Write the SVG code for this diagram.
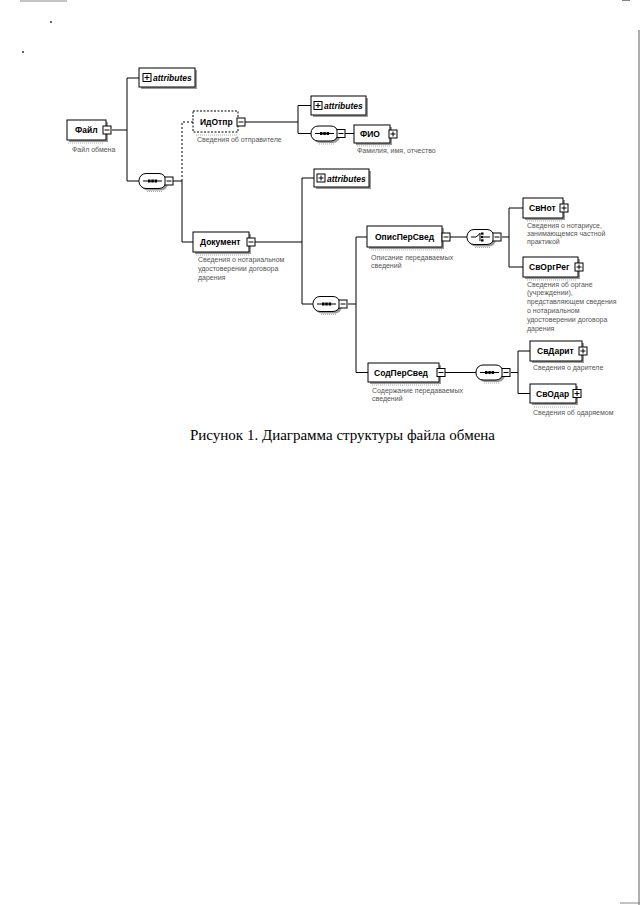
<svg xmlns="http://www.w3.org/2000/svg" xmlns:xlink="http://www.w3.org/1999/xlink" width="640" height="905" viewBox="0 0 640 905">
<style>
.bg{fill:#fff}
.box{fill:#fff;stroke:#000;stroke-width:1}
.dbox{fill:#fff;stroke:#000;stroke-width:1;stroke-dasharray:2,1.5}
.sh{fill:#9a9a9a}
.ln{stroke:#000;stroke-width:1;fill:none}
.dl{stroke:#000;stroke-width:1;fill:none;stroke-dasharray:2,2}
.ns{stroke:#aaa;stroke-width:1;fill:none;stroke-dasharray:1,1}
.name{font-family:"Liberation Sans",Arial,sans-serif;font-weight:bold;font-size:8.5px;fill:#000}
.attr{font-family:"Liberation Sans",Arial,sans-serif;font-weight:bold;font-style:italic;font-size:8.5px;fill:#000}
.desc{font-family:"Liberation Sans",Arial,sans-serif;font-size:7px;fill:#555}
.cap{font-family:"Liberation Serif","Times New Roman",serif;font-size:15px;fill:#000}
.art{stroke:#888;stroke-width:1;fill:none}
</style>
<defs>
<g id="btnMinus"><rect x="0" y="0" width="8" height="8" class="box"/><line x1="1.5" y1="4" x2="6.5" y2="4" class="ln"/></g>
<g id="btnPlus"><rect x="0" y="0" width="8" height="8" class="box"/><line x1="1.5" y1="4" x2="6.5" y2="4" class="ln"/><line x1="4" y1="1.5" x2="4" y2="6.5" class="ln"/></g>
<g id="seq">
<rect x="2" y="2" width="27" height="15" rx="7" class="sh"/>
<rect x="0" y="0" width="27" height="15" rx="7" class="box"/>
<line x1="4" y1="7.5" x2="23" y2="7.5" class="ln"/>
<rect x="9" y="6" width="2.5" height="3" fill="#000"/><rect x="12.3" y="6" width="2.5" height="3" fill="#000"/><rect x="15.6" y="6" width="2.5" height="3" fill="#000"/>
<use xlink:href="#btnMinus" x="26" y="3.5"/>
<line x1="8" y1="18" x2="24" y2="18" class="ns"/>
</g>
<g id="choice">
<rect x="2" y="2" width="27" height="15" rx="7" class="sh"/>
<rect x="0" y="0" width="27" height="15" rx="7" class="box"/>
<polyline points="4,7.5 9,7.5 13,4" class="ln"/>
<rect x="14" y="3" width="2.5" height="2.2" fill="#000"/><rect x="14" y="6.4" width="2.5" height="2.2" fill="#000"/><rect x="14" y="9.8" width="2.5" height="2.2" fill="#000"/>
<polyline points="13,3.5 13,11.5" class="ln"/>
<line x1="17" y1="7.5" x2="23" y2="7.5" class="ln"/>
<use xlink:href="#btnMinus" x="26" y="3.5"/>
<line x1="8" y1="18" x2="24" y2="18" class="ns"/>
</g>
</defs>
<rect x="0" y="0" width="640" height="905" class="bg"/>
<g id="artifacts">
<line x1="20" y1="1" x2="67" y2="1" class="art"/>
<line x1="622" y1="0.5" x2="630" y2="0.5" class="art"/>
<rect x="50" y="21" width="2" height="2" fill="#666"/>
<rect x="22" y="51" width="2" height="2" fill="#666"/>
<line x1="639" y1="30" x2="639" y2="905" stroke="#777" stroke-width="1.2"/>
<line x1="620" y1="903" x2="640" y2="903" class="art"/>
</g>
<g id="connectors">
<polyline points="112,130 127,130" class="ln"/>
<polyline points="139,78 127,78 127,181 139,181" class="ln"/>
<line x1="173" y1="181" x2="182" y2="181" class="ln"/>
<polyline points="193,122 182,122 182,181" class="dl"/>
<polyline points="182,181 182,242 193,242" class="ln"/>
<line x1="245" y1="122" x2="298" y2="122" class="ln"/>
<polyline points="311,105.5 298,105.5 298,133.5 311,133.5" class="ln"/>
<line x1="345" y1="133.5" x2="354" y2="133.5" class="ln"/>
<line x1="255" y1="242" x2="302" y2="242" class="ln"/>
<polyline points="314,178 302,178 302,304 313,304" class="ln"/>
<line x1="348" y1="304" x2="356" y2="304" class="ln"/>
<polyline points="367,237 356,237 356,372.5 368,372.5" class="ln"/>
<line x1="450" y1="237" x2="467" y2="237" class="ln"/>
<line x1="502" y1="237" x2="509" y2="237" class="ln"/>
<polyline points="523,208 509,208 509,267 523,267" class="ln"/>
<line x1="445" y1="372.5" x2="476" y2="372.5" class="ln"/>
<line x1="511" y1="372.5" x2="518" y2="372.5" class="ln"/>
<polyline points="530,351 518,351 518,393.5 530,393.5" class="ln"/>
</g>
<g id="node-fajl">
<rect x="69" y="122" width="39" height="20" class="sh"/>
<rect x="67" y="120" width="39" height="20" class="box"/>
<text x="75" y="133" class="name">Файл</text>
<use xlink:href="#btnMinus" x="103" y="126"/>
<line x1="68" y1="143" x2="104" y2="143" class="ns"/>
<text x="72" y="152" class="desc">Файл обмена</text>
</g>
<g id="attr-fajl">
<rect x="141" y="70" width="56" height="19" class="sh"/>
<rect x="139" y="68" width="56" height="19" class="box"/>
<use xlink:href="#btnPlus" x="143" y="73.5"/>
<text x="153" y="81" class="attr">attributes</text>
</g>
<g id="seq-fajl"><use xlink:href="#seq" x="139" y="173.5"/></g>
<g id="node-idotpr">
<rect x="193" y="111" width="45" height="21" class="dbox"/>
<text x="200" y="125" class="name">ИдОтпр</text>
<use xlink:href="#btnMinus" x="237" y="118"/>
<line x1="196" y1="135" x2="238" y2="135" class="ns"/>
<text x="197" y="142" class="desc">Сведения об отправителе</text>
</g>
<g id="attr-idotpr">
<rect x="313" y="98" width="55" height="19" class="sh"/>
<rect x="311" y="96" width="55" height="19" class="box"/>
<use xlink:href="#btnPlus" x="314" y="101.5"/>
<text x="324" y="109" class="attr">attributes</text>
</g>
<g id="seq-idotpr"><use xlink:href="#seq" x="311" y="126"/></g>
<g id="node-fio">
<rect x="356" y="127" width="36" height="18" class="sh"/>
<rect x="354" y="125" width="36" height="18" class="box"/>
<text x="360" y="137" class="name">ФИО</text>
<use xlink:href="#btnPlus" x="389" y="130"/>
<line x1="357" y1="146" x2="390" y2="146" class="ns"/>
<text x="357" y="153" class="desc">Фамилия, имя, отчество</text>
</g>
<g id="node-dokument">
<rect x="195" y="234" width="56" height="20" class="sh"/>
<rect x="193" y="232" width="56" height="20" class="box"/>
<text x="200" y="245" class="name">Документ</text>
<use xlink:href="#btnMinus" x="247" y="238"/>
<line x1="196" y1="255" x2="249" y2="255" class="ns"/>
<text x="198" y="262" class="desc">Сведения о нотариальном</text>
<text x="198" y="271" class="desc">удостоверении договора</text>
<text x="198" y="280" class="desc">дарения</text>
</g>
<g id="attr-dokument">
<rect x="316" y="171" width="55" height="18" class="sh"/>
<rect x="314" y="169" width="55" height="18" class="box"/>
<use xlink:href="#btnPlus" x="317" y="174"/>
<text x="327" y="181.5" class="attr">attributes</text>
</g>
<g id="seq-dokument"><use xlink:href="#seq" x="313" y="296.5"/></g>
<g id="node-opispersved">
<rect x="369" y="228" width="75" height="21" class="sh"/>
<rect x="367" y="226" width="75" height="21" class="box"/>
<text x="375" y="240" class="name">ОписПерСвед</text>
<use xlink:href="#btnMinus" x="442" y="233"/>
<line x1="371" y1="250" x2="443" y2="250" class="ns"/>
<text x="371" y="260" class="desc">Описание передаваемых</text>
<text x="371" y="268" class="desc">сведений</text>
</g>
<g id="choice-opispersved"><use xlink:href="#choice" x="467" y="229.5"/></g>
<g id="node-svnot">
<rect x="525" y="200" width="40" height="20" class="sh"/>
<rect x="523" y="198" width="40" height="20" class="box"/>
<text x="529" y="211" class="name">СвНот</text>
<use xlink:href="#btnPlus" x="560" y="204"/>
<line x1="527" y1="221" x2="562" y2="221" class="ns"/>
<text x="527" y="228" class="desc">Сведения о нотариусе,</text>
<text x="527" y="236" class="desc">занимающемся частной</text>
<text x="527" y="244" class="desc">практикой</text>
</g>
<g id="node-svorgreg">
<rect x="525" y="259" width="55" height="20" class="sh"/>
<rect x="523" y="257" width="55" height="20" class="box"/>
<text x="529" y="270" class="name">СвОргРег</text>
<use xlink:href="#btnPlus" x="575" y="263"/>
<line x1="527" y1="280" x2="576" y2="280" class="ns"/>
<text x="527" y="287" class="desc">Сведения об органе</text>
<text x="527" y="295" class="desc">(учреждении),</text>
<text x="527" y="304" class="desc">представляющем сведения</text>
<text x="527" y="313" class="desc">о нотариальном</text>
<text x="527" y="322" class="desc">удостоверении договора</text>
<text x="527" y="331" class="desc">дарения</text>
</g>
<g id="node-sodpersved">
<rect x="370" y="365" width="71" height="19" class="sh"/>
<rect x="368" y="363" width="71" height="19" class="box"/>
<text x="374" y="376" class="name">СодПерСвед</text>
<use xlink:href="#btnMinus" x="437" y="368.5"/>
<line x1="372" y1="385" x2="440" y2="385" class="ns"/>
<text x="372" y="393" class="desc">Содержание передаваемых</text>
<text x="372" y="401" class="desc">сведений</text>
</g>
<g id="seq-sodpersved"><use xlink:href="#seq" x="476" y="365"/></g>
<g id="node-svdarit">
<rect x="532" y="343" width="52" height="20" class="sh"/>
<rect x="530" y="341" width="52" height="20" class="box"/>
<text x="537" y="354" class="name">СвДарит</text>
<use xlink:href="#btnPlus" x="579" y="347"/>
<text x="533" y="370" class="desc">Сведения о дарителе</text>
</g>
<g id="node-svodar">
<rect x="532" y="386" width="46" height="19" class="sh"/>
<rect x="530" y="384" width="46" height="19" class="box"/>
<text x="536" y="397" class="name">СвОдар</text>
<use xlink:href="#btnPlus" x="573" y="389.5"/>
<line x1="534" y1="407" x2="575" y2="407" class="ns"/>
<text x="533" y="415" class="desc">Сведения об одаряемом</text>
</g>
<g id="caption">
<text x="190" y="440" class="cap">Рисунок 1. Диаграмма структуры файла обмена</text>
</g>
</svg>
